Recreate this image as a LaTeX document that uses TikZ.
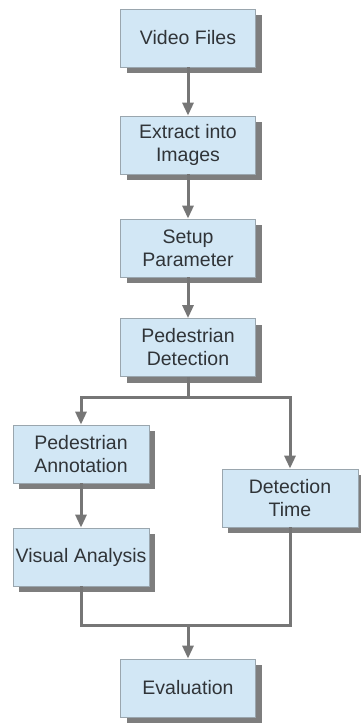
\documentclass[tikz,border=0pt]{standalone}
\usepackage{fontspec}
\setmainfont{Liberation Sans}
\usetikzlibrary{shadows,arrows.meta}
\definecolor{boxfill}{HTML}{D2E7F5}
\definecolor{boxline}{HTML}{9AA6AE}
\definecolor{shadowc}{HTML}{7E7E7E}
\definecolor{linec}{HTML}{767676}
\definecolor{textc}{HTML}{303438}
\begin{document}
\begin{tikzpicture}[x=1pt,y=-1pt,
  flowbox/.style={draw=boxline, line width=0.8pt, fill=boxfill, align=center,
    minimum width=135pt, minimum height=58pt, inner sep=0pt, text=textc,
    font=\fontsize{19.5}{23}\selectfont,
    drop shadow={shadow xshift=6pt, shadow yshift=-6pt, fill=shadowc, opacity=1}},
  conn/.style={draw=linec, line width=3pt},
  arr/.style={conn, -{Triangle[length=13pt,width=11pt]}}]
\useasboundingbox (0,0) rectangle (360,723);
\node[flowbox] (vf) at (188,38) {Video Files};
\node[flowbox] (ei) at (188,145) {Extract into\\Images};
\node[flowbox] (sp) at (188,248) {Setup\\Parameter};
\node[flowbox] (pd) at (188,347.5) {Pedestrian\\Detection};
\node[flowbox, minimum width=136pt] (pa) at (81,454) {Pedestrian\\Annotation};
\node[flowbox, minimum width=136pt] (dt) at (290,498) {Detection\\Time};
\node[flowbox, minimum width=136pt] (va) at (81,557) {Visual Analysis};
\node[flowbox] (ev) at (188,688) {Evaluation};
\coordinate (split) at (188,397);
\coordinate (merge) at (188,625);
\draw[arr] (vf) -- (ei);
\draw[arr] (ei) -- (sp);
\draw[arr] (sp) -- (pd);
\draw[conn] (pd.south) -- (split);
\draw[arr] (split) -| (pa.north);
\draw[arr] (split) -| (dt.north);
\draw[arr] (pa) -- (va);
\draw[conn] (va.south) |- (merge) -| (dt.south);
\draw[arr] (merge) -- (ev.north);
\end{tikzpicture}
\end{document}
